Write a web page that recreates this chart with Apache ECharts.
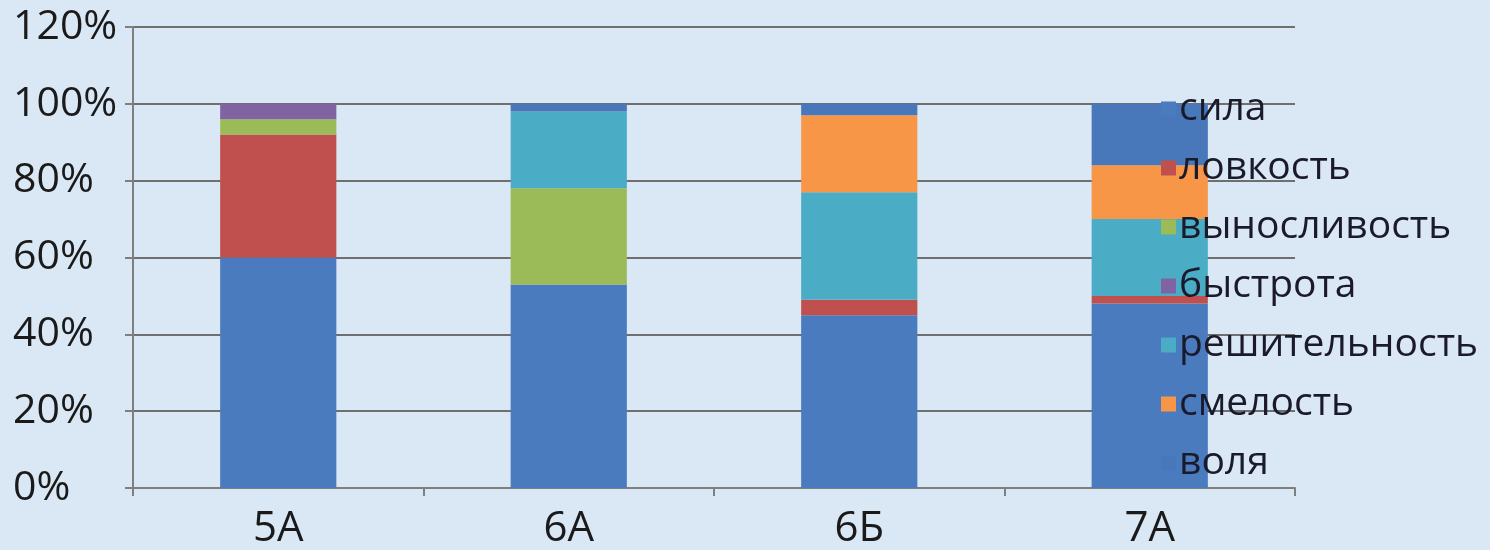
<!DOCTYPE html>
<html>
<head>
<meta charset="utf-8">
<script src="https://cdn.jsdelivr.net/npm/echarts@6/dist/echarts.min.js"></script>
<style>
  html, body { margin: 0; padding: 0; background: #dae7f4; }
  #chart { width: 1490px; height: 550px; }
</style>
</head>
<body>
<div id="chart"></div>
<script>
// Classes and the share of each quality (percent of class)
const classes = ['5А', '6А', '6Б', '7А'];
const yTicks = [0, 20, 40, 60, 80, 100, 120];

const sila          = [60, 53, 45, 48];
const lovkost       = [32, 0, 4, 2];
const vynoslivost   = [4, 25, 0, 0];
const bystrota      = [4, 0, 0, 0];
const reshitelnost  = [0, 20, 28, 20];
const smelost       = [0, 0, 20, 14];
const volya         = [0, 2, 3, 16];

const seriesDefs = [
  { name: 'сила',          data: sila,         color: '#4a7bbf' },
  { name: 'ловкость',      data: lovkost,      color: '#c0504d' },
  { name: 'выносливость',  data: vynoslivost,  color: '#9bbb59' },
  { name: 'быстрота',      data: bystrota,     color: '#8064a2' },
  { name: 'решительность', data: reshitelnost, color: '#4bacc6' },
  { name: 'смелость',      data: smelost,      color: '#f79646' },
  { name: 'воля',          data: volya,        color: '#4877ba' }
];

const FONT = '"Open Sans", "Noto Sans", sans-serif';

const chart = echarts.init(document.getElementById('chart'), null, { renderer: 'canvas' });

chart.setOption({
  backgroundColor: '#dae7f4',
  animation: false,
  grid: { left: 133, right: 195, top: 27, bottom: 61 },
  legend: {
    orient: 'vertical',
    left: 1156,
    top: 84,
    itemWidth: 15,
    itemHeight: 15,
    itemGap: 19,
    icon: 'rect',
    textStyle: { fontFamily: FONT, fontSize: 39, color: '#1a1a2a', lineHeight: 40, padding: [0, 0, 0, -2] },
    data: seriesDefs.map(s => s.name)
  },
  xAxis: {
    type: 'category',
    data: classes,
    axisLine: { lineStyle: { color: '#7f7f7f', width: 2 } },
    axisTick: { show: true, length: 8, lineStyle: { color: '#7f7f7f', width: 2 } },
    axisLabel: { fontFamily: FONT, fontSize: 42, color: '#1a1a1a', margin: 20 }
  },
  yAxis: {
    type: 'value',
    min: yTicks[0],
    max: yTicks[yTicks.length - 1],
    interval: 20,
    axisLine: { show: true, lineStyle: { color: '#7f7f7f', width: 2 } },
    axisTick: { show: true, length: 8, lineStyle: { color: '#7f7f7f', width: 2 } },
    splitLine: { show: true, lineStyle: { color: '#6f6f6f', width: 2 } },
    axisLabel: {
      fontFamily: FONT, fontSize: 41, color: '#1a1a1a',
      align: 'left', margin: 120, formatter: '{value}%'
    }
  },
  series: seriesDefs.map(s => ({
    name: s.name,
    type: 'bar',
    stack: 'total',
    barWidth: '40%',
    data: s.data,
    itemStyle: { color: s.color },
    emphasis: { disabled: true }
  }))
});
</script>
</body>
</html>
